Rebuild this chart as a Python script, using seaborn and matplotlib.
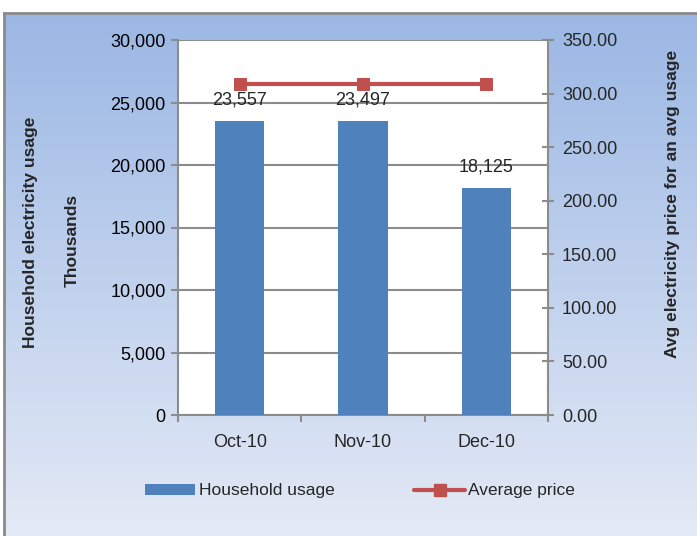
import numpy as np
import pandas as pd
import matplotlib
matplotlib.use("Agg")
import matplotlib.pyplot as plt
import seaborn as sns
from matplotlib.lines import Line2D
from matplotlib.patches import Patch
from matplotlib.ticker import FuncFormatter, MultipleLocator

months = ["Oct-10", "Nov-10", "Dec-10"]
usage = [23557, 23497, 18125]
price = [309.0, 309.0, 309.0]

sns.set_theme(style="white")
plt.rcParams['font.family'] = ['Liberation Sans', 'DejaVu Sans']

W, H = 697, 536
FS = 13
fig = plt.figure(figsize=(W / 100, H / 100), dpi=100)
fig.patch.set_facecolor("white")

# gradient background panel
bg = fig.add_axes([4 / W, 0, 1 - 4 / W, 1 - 13 / H], zorder=-10)
top = np.array([155, 183, 228]) / 255
bot = np.array([228, 234, 246]) / 255
t = np.linspace(0, 1, 256)[:, None]
grad = top[None, :] * (1 - t) + bot[None, :] * t
bg.imshow(grad[:, None, :], aspect="auto", extent=[0, 1, 0, 1])
bg.set_xlim(0, 1); bg.set_ylim(0, 1)
bg.set_xticks([]); bg.set_yticks([])
for s in ["right", "bottom"]:
    bg.spines[s].set_visible(False)
for s in ["left", "top"]:
    bg.spines[s].set_color("#8a8a8a")
    bg.spines[s].set_linewidth(2)

df = pd.DataFrame({"month": months, "usage": usage, "price": price})

ax = fig.add_axes([178 / W, 1 - 415 / H, (548 - 178) / W, (415 - 40) / H])
ax.set_facecolor("white")
sns.barplot(data=df, x="month", y="usage", ax=ax, color="#4F81BD",
            width=0.4, saturation=1, edgecolor="none", zorder=3)
ax.set_ylim(0, 30000)
ax.set_xlim(-0.5, 2.5)
ax.yaxis.set_major_locator(MultipleLocator(5000))
ax.yaxis.set_major_formatter(FuncFormatter(lambda v, p: f"{int(v):,}"))
ax.grid(axis="y", color="#8c8c8c", linewidth=1.5, zorder=0)
ax.set_axisbelow(True)
ax.spines["top"].set_visible(False)
for s in ["left", "bottom", "right"]:
    ax.spines[s].set_color("#8c8c8c")
    ax.spines[s].set_linewidth(1.5)
ax.tick_params(axis="y", left=True, length=5, width=1.5, color="#8c8c8c",
               labelsize=FS, labelcolor="black", pad=4)
ax.set_xticks([0, 1, 2])
ax.set_xticklabels(months)
ax.set_xticks([-0.5, 0.5, 1.5, 2.5], minor=True)
ax.tick_params(axis="x", which="major", bottom=False, labelsize=FS, pad=8)
ax.tick_params(axis="x", which="minor", bottom=True, length=5, width=1.5,
               color="#8c8c8c")
ax.set_xlabel("")
ax.set_ylabel("")

for i, v in enumerate(usage):
    ax.text(i, v + 1000, f"{v:,}", ha="center", va="bottom", fontsize=FS,
            zorder=5)

ax2 = ax.twinx()
sns.lineplot(data=df, x="month", y="price", ax=ax2, color="#C0504D",
             linewidth=3, marker="s", markersize=8, markeredgecolor="#C0504D",
             zorder=4)
ax2.set_ylim(0, 350)
ax2.yaxis.set_major_locator(MultipleLocator(50))
ax2.yaxis.set_major_formatter(FuncFormatter(lambda v, p: f"{v:.2f}"))
ax2.tick_params(axis="y", right=True, direction="inout", length=8, width=1.5,
                color="#8c8c8c", labelsize=FS, pad=6)
ax2.set_ylabel("")
ax2.set_xlabel("")
for s in ax2.spines.values():
    s.set_visible(False)
ax2.grid(False)

fig.text(30 / W, 1 - 232 / H, "Household electricity usage", rotation=90,
         ha="center", va="center", fontsize=12.5, fontweight="bold")
fig.text(72 / W, 1 - 240 / H, "Thousands", rotation=90,
         ha="center", va="center", fontsize=12.5, fontweight="bold")
fig.text(673 / W, 1 - 204 / H, "Avg electricity price for an avg usage",
         rotation=90, ha="center", va="center", fontsize=12.5,
         fontweight="bold")

# legend
handles = [Patch(facecolor="#4F81BD", edgecolor="none"),
           Line2D([0], [0], color="#C0504D", lw=3, marker="s", markersize=8)]
leg = fig.legend(handles, ["Household usage", "Average price"],
                 loc="center", bbox_to_anchor=(360 / W, 1 - 491 / H),
                 ncol=2, frameon=False, fontsize=12.5, handlelength=2.9,
                 handleheight=0.55, handletextpad=0.2, columnspacing=4.6)

fig.savefig("out.png", dpi=100, facecolor="white")
